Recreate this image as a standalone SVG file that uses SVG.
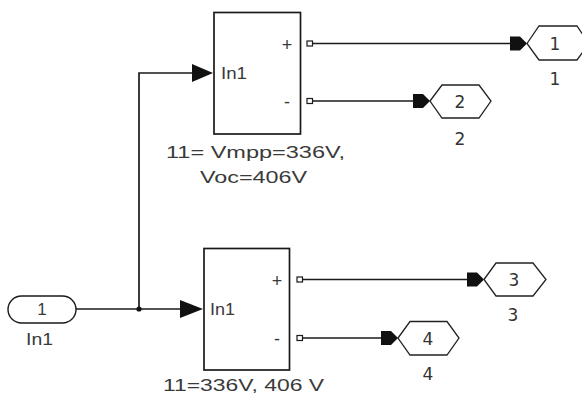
<svg xmlns="http://www.w3.org/2000/svg" width="582" height="399" viewBox="0 0 582 399">
<style>
.blk{fill:#fff;stroke:#1a1a1a;stroke-width:1.7}
.ln{fill:none;stroke:#1a1a1a;stroke-width:1.7}
.hex{fill:#fff;stroke:#222;stroke-width:1.3}
.port{fill:#fff;stroke:#1a1a1a;stroke-width:1.2}
.ah{fill:#111;stroke:none}
.t{font-family:"Liberation Sans",Arial,sans-serif;fill:#3a3a3a}
.n{font-family:"DejaVu Sans",Verdana,sans-serif;fill:#333;font-size:17px;text-anchor:middle}
</style>
<rect x="0" y="0" width="582" height="399" fill="#fff"/>
<g id="connectors">
<polyline class="ln" points="76,309 192,309"/>
<polyline class="ln" points="139,309 139,73 194,73"/>
<circle cx="139" cy="309" r="2.6" fill="#111"/>
<polygon class="ah" points="192,64 213,73 192,82"/>
<polygon class="ah" points="180,300 203,309 180,318"/>
<line class="ln" x1="313" y1="43.5" x2="512" y2="43.5"/>
<line class="ln" x1="313" y1="101" x2="415" y2="101"/>
<line class="ln" x1="303" y1="279.5" x2="469" y2="279.5"/>
<line class="ln" x1="303" y1="338" x2="384" y2="338"/>
<path class="ah" d="M510,36.5 H520 L527,43.5 L520,50.5 H510 Z"/>
<path class="ah" d="M413,94 H423 L430,101 L423,108 H413 Z"/>
<path class="ah" d="M467,272.5 H477 L484,279.5 L477,286.5 H467 Z"/>
<path class="ah" d="M381,331 H391 L398,338 L391,345 H381 Z"/>
</g>
<g id="in1">
<rect x="8" y="296" width="68" height="27" rx="13.5" class="port" style="stroke-width:1.4"/>
<text class="t" x="42" y="315" font-size="17" text-anchor="middle">1</text>
<text class="t" x="26" y="345" font-size="17" textLength="27" lengthAdjust="spacingAndGlyphs">In1</text>
</g>
<g id="block1">
<rect class="blk" x="214" y="12.5" width="86.5" height="121.5"/>
<text class="t" x="221" y="78.5" font-size="17" textLength="26" lengthAdjust="spacingAndGlyphs">In1</text>
<text class="t" x="287" y="51" font-size="18" text-anchor="middle">+</text>
<text class="t" x="287" y="108" font-size="18" text-anchor="middle">-</text>
<rect class="port" x="307" y="41" width="5.5" height="5"/>
<rect class="port" x="307" y="98.5" width="5.5" height="5"/>
<text class="t" x="166" y="157.5" font-size="16" textLength="179" lengthAdjust="spacingAndGlyphs">11= Vmpp=336V,</text>
<text class="t" x="200" y="183" font-size="16" textLength="107" lengthAdjust="spacingAndGlyphs">Voc=406V</text>
</g>
<g id="block2">
<rect class="blk" x="204" y="248.5" width="85.5" height="121.5"/>
<text class="t" x="210" y="315" font-size="17" textLength="25" lengthAdjust="spacingAndGlyphs">In1</text>
<text class="t" x="277" y="286.5" font-size="18" text-anchor="middle">+</text>
<text class="t" x="277" y="345" font-size="18" text-anchor="middle">-</text>
<rect class="port" x="297" y="277" width="5.5" height="5"/>
<rect class="port" x="297" y="335.5" width="5.5" height="5"/>
<text class="t" x="163" y="391" font-size="16" textLength="161" lengthAdjust="spacingAndGlyphs">11=336V, 406 V</text>
</g>
<g id="out1">
<polygon class="hex" points="527,43.5 539,26 577,26 589,43.5 577,60 539,60"/>
<text class="n" x="555" y="50">1</text>
<text class="n" x="555" y="85">1</text>
</g>
<g id="out2">
<polygon class="hex" points="430,101 442,85 479,85 491,101 479,118 442,118"/>
<text class="n" x="460" y="108">2</text>
<text class="n" x="460" y="145">2</text>
</g>
<g id="out3">
<polygon class="hex" points="484,279.5 496,263 533,263 546,279.5 533,296 496,296"/>
<text class="n" x="514" y="286">3</text>
<text class="n" x="513" y="321">3</text>
</g>
<g id="out4">
<polygon class="hex" points="398,338 410,321.5 447,321.5 459,338 447,355 410,355"/>
<text class="n" x="428" y="345">4</text>
<text class="n" x="428" y="380">4</text>
</g>
</svg>
